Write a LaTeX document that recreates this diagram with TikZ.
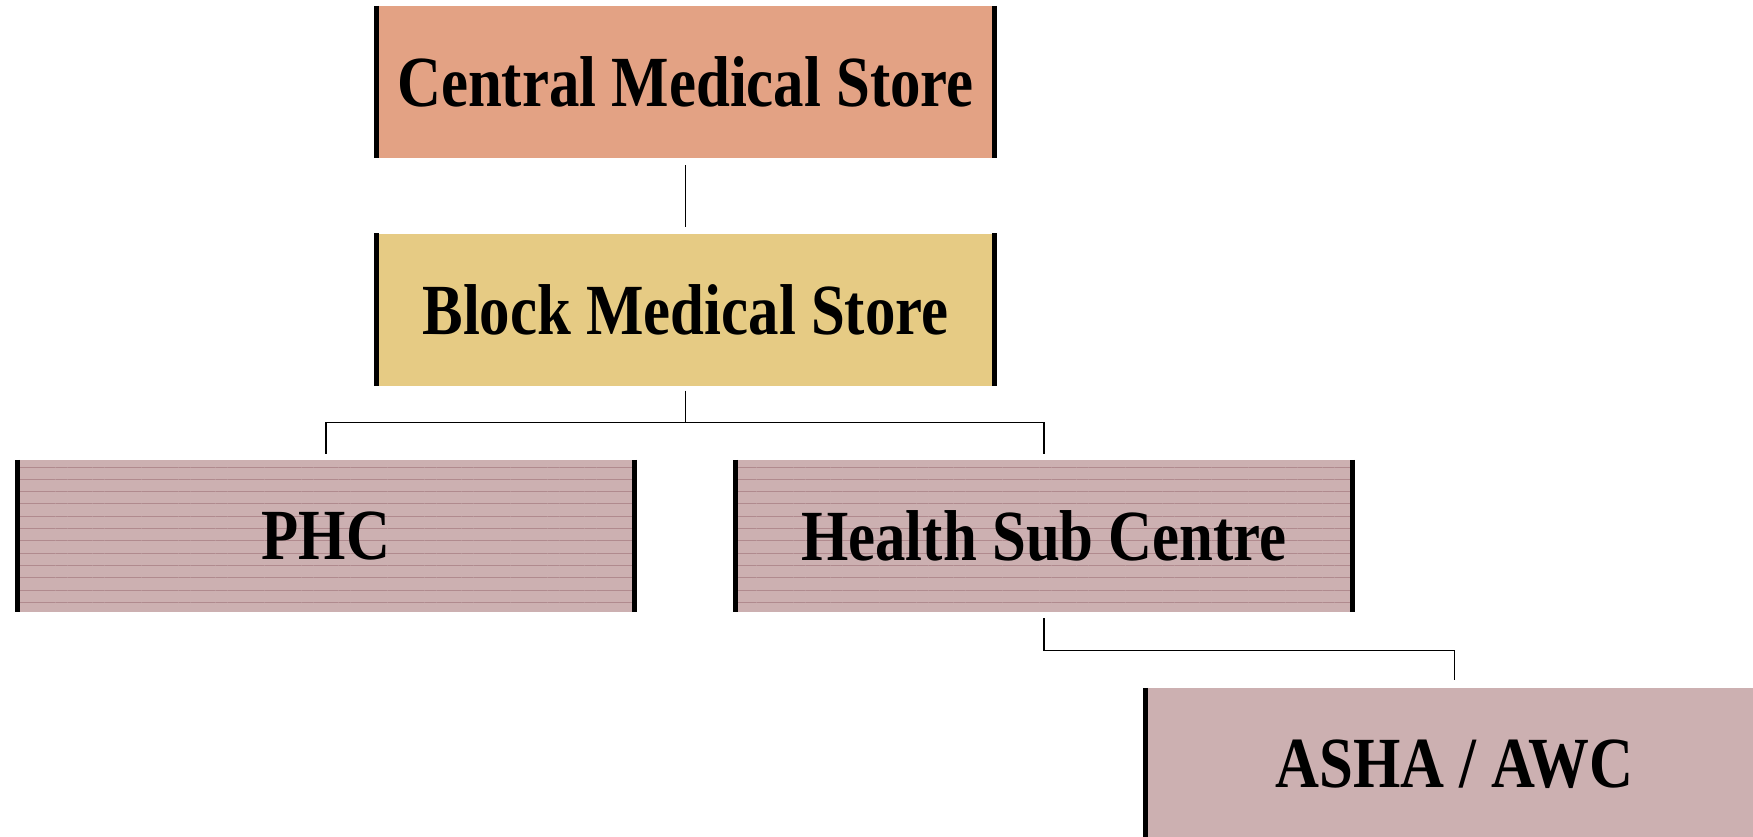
\documentclass[tikz,border=0pt]{standalone}
\usepackage{fontspec}
\setmainfont{Liberation Serif}
\usepackage{tikz}
\usetikzlibrary{patterns.meta}

\definecolor{cmsfill}{HTML}{E3A284}
\definecolor{bmsfill}{HTML}{E6CB84}
\definecolor{hcfill}{HTML}{CCB0B1}
\definecolor{hcline}{HTML}{B08A8E}

\newcommand{\lbl}[1]{\scalebox{0.845}[1]{#1}}

\begin{document}
\begin{tikzpicture}[x=1pt, y=-1pt,
        store/.style={minimum width=617pt, minimum height=152pt, inner sep=0pt,
            font=\fontsize{72}{84}\selectfont\bfseries},
        striped/.style={store, fill=hcfill,
            postaction={pattern={Lines[angle=0, distance=12.3pt, line width=0.9pt]}, pattern color=hcline}}]
                \clip (0, 0) rectangle (1753, 836);

                % Nodes
                \node[store, fill=cmsfill] at (685.5, 82) (cms) {\lbl{Central Medical Store}};
                \node[store, fill=bmsfill] at (685.5, 309.5) (bms) {\lbl{Block Medical Store}};
                \node[striped] at (326, 536) (phc) {\lbl{PHC}};
                \node[striped] at (1044, 536) (hsc) {\lbl{Health Sub Centre}};
                \node[store, fill=hcfill] at (1454.5, 764) (asha) {\lbl{ASHA / AWC}};

                % side bars
                \foreach \n in {cms, bms, phc, hsc, asha} {
                    \draw[line width=5pt] (\n.north west) -- (\n.south west);
                    \draw[line width=5pt] (\n.north east) -- (\n.south east);
                }

                % Connectors
                \draw[line width=1.3pt] ([yshift=-7pt]cms.south) -- ([yshift=6pt]bms.north);
                \draw[line width=1.3pt] ([yshift=-5pt]bms.south) -- ([yshift=-37pt]bms.south);
                \draw[line width=1.3pt] ([yshift=6pt]phc.north) |- ([yshift=-37pt]bms.south) -| ([yshift=6pt]hsc.north);
                \draw[line width=1.3pt] ([yshift=-6pt]hsc.south) |- ([yshift=-38pt]hsc.south -| asha.north) -- ([yshift=8pt]asha.north);

            \end{tikzpicture}
\end{document}
